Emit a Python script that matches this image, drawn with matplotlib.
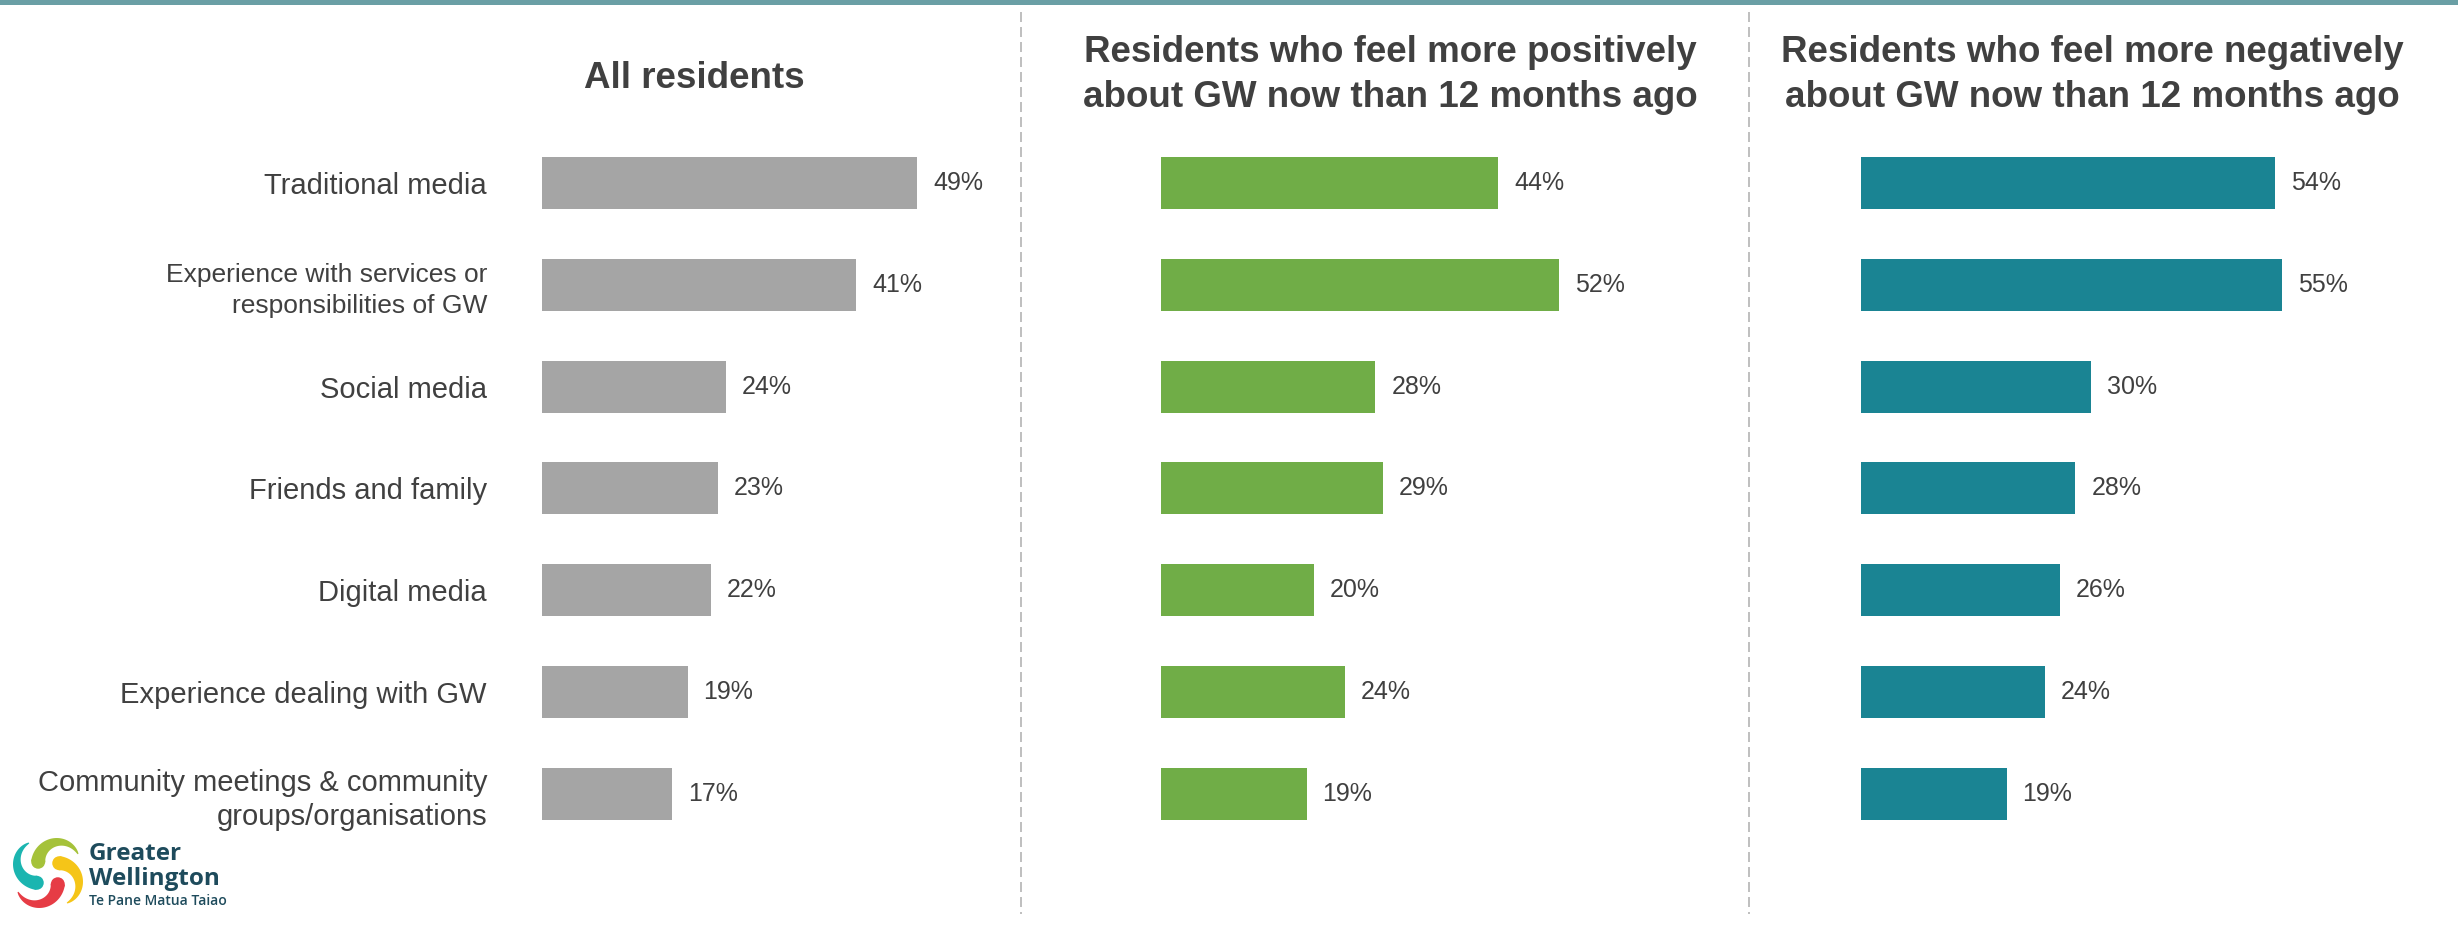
import matplotlib
matplotlib.use("Agg")
import matplotlib.pyplot as plt
import numpy as np
from matplotlib.patches import Rectangle, Polygon, Circle
from matplotlib.lines import Line2D

# ---------------- data ----------------
categories = [
    "Traditional media",
    "Experience with services or\nresponsibilities of GW",
    "Social media",
    "Friends and family",
    "Digital media",
    "Experience dealing with GW",
    "Community meetings & community\ngroups/organisations",
]
all_residents = [49, 41, 24, 23, 22, 19, 17]
more_positive = [44, 52, 28, 29, 20, 24, 19]
more_negative = [54, 55, 30, 28, 26, 24, 19]
titles = [
    "All residents",
    "Residents who feel more positively\nabout GW now than 12 months ago",
    "Residents who feel more negatively\nabout GW now than 12 months ago",
]
series = [all_residents, more_positive, more_negative]
colors = ["#a5a5a5", "#70ad47", "#1a8493"]

plt.rcParams["font.family"] = ["Liberation Sans", "DejaVu Sans"]
TXT = "#404040"

W, H = 2458, 930
fig = plt.figure(figsize=(W / 100, H / 100), dpi=100)

px_per_unit = 7.66
pitch = 101.8
first_center = 183.0
bar_h_px = 52.0
axes_left_px = [542, 1161, 1861]
axes_width_px = [440, 560, 560]
top_px = first_center - pitch / 2
bottom_px = first_center + pitch * 6.5

for k in range(3):
    left = axes_left_px[k] / W
    width = axes_width_px[k] / W
    bottom = 1 - bottom_px / H
    height = (bottom_px - top_px) / H
    ax = fig.add_axes([left, bottom, width, height])
    ax.set_xlim(0, axes_width_px[k] / px_per_unit)
    ax.set_ylim(len(categories) - 0.5, -0.5)
    y = np.arange(len(categories))
    ax.barh(y, series[k], height=bar_h_px / pitch, color=colors[k])
    for i, v in enumerate(series[k]):
        ax.annotate(f"{v}%", (v, i), xytext=(16 * 0.72, 0), textcoords="offset points",
                    ha="left", va="center", fontsize=18, color=TXT)
    for s in ax.spines.values():
        s.set_visible(False)
    ax.set_xticks([])
    if k == 0:
        ax.set_yticks(y)
        ax.set_yticklabels(categories)
        ax.tick_params(axis="y", length=0, pad=55 * 0.72)
        for lab in ax.get_yticklabels():
            lab.set_color(TXT)
            if lab.get_text().startswith("Experience with"):
                lab.set_fontsize(19)
                lab.set_linespacing(1.35)
            else:
                lab.set_fontsize(21)
                lab.set_linespacing(1.27)
    else:
        ax.set_yticks([])
    ax.patch.set_alpha(0)

# titles
title_x = [694, 1390, 2092]
title_y = [78, 75, 75]
for k in range(3):
    fig.text(title_x[k] / W, 1 - title_y[k] / H, titles[k], ha="center", va="center",
             fontsize=26.5, fontweight="bold", color=TXT, linespacing=1.38)

# top bar
fig.add_artist(Rectangle((0, 1 - 5 / H), 1, 5 / H, transform=fig.transFigure,
                         color="#6a9fa5", lw=0))

# separators
for xs in [1021, 1749]:
    fig.add_artist(Line2D([xs / W, xs / W], [1 - 12 / H, 1 - 914 / H],
                          transform=fig.transFigure, color="#b4b4b4", lw=1.2,
                          linestyle=(0, (6, 3))))

# logo icon
axl = fig.add_axes([10 / W, 1 - 911 / H, 76 / W, 76 / H])
axl.set_xlim(-1.2, 1.2)
axl.set_ylim(-1.2, 1.2)
axl.set_aspect("equal")
axl.axis("off")


def comma(ax, rot_deg, color):
    t = np.linspace(0, 1, 80)
    c = np.array([0.35, 0.32])
    r = 0.66
    ang = np.deg2rad(177 - 152 * t)
    thick = 0.42 * (1 - t) ** 0.8 + 0.03
    dirs = np.vstack([np.cos(ang), np.sin(ang)])
    outer = c[:, None] + (r + thick / 2) * dirs
    inner = c[:, None] + (r - thick / 2) * dirs
    pts = np.hstack([outer, inner[:, ::-1]]).T
    a = np.deg2rad(rot_deg)
    R = np.array([[np.cos(a), -np.sin(a)], [np.sin(a), np.cos(a)]])
    pts = pts @ R.T
    ax.add_patch(Polygon(pts, closed=True, color=color, lw=0))
    hc = c + r * np.array([np.cos(np.deg2rad(177)), np.sin(np.deg2rad(177))])
    ax.add_patch(Circle(R @ hc, 0.22, color=color, lw=0))


comma(axl, 0, "#a5c23a")
comma(axl, 90, "#1bb5b0")
comma(axl, 180, "#e63c45")
comma(axl, 270, "#f5c518")

LOGO = "#1e4b5c"
fig.text(89 / W, 1 - 860 / H, "Greater", fontsize=17.5, fontweight="bold",
         family=["Open Sans", "DejaVu Sans"], color=LOGO, va="baseline", ha="left")
fig.text(89 / W, 1 - 885 / H, "Wellington", fontsize=17.5, fontweight="bold",
         family=["Open Sans", "DejaVu Sans"], color=LOGO, va="baseline", ha="left")
fig.text(89 / W, 1 - 905 / H, "Te Pane Matua Taiao", fontsize=10, fontweight="semibold",
         family=["Open Sans", "DejaVu Sans"], color=LOGO, va="baseline", ha="left")

fig.savefig("out.png", dpi=100, facecolor="white")
